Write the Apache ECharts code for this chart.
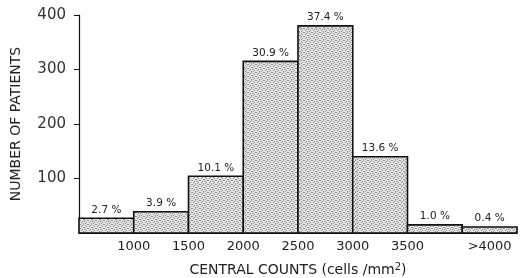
<!DOCTYPE html>
<html lang="en">
<head>
    <meta charset="UTF-8">
    <title>Central counts</title>
    <script src="https://cdn.jsdelivr.net/npm/echarts@6/dist/echarts.min.js"></script>
    <style>
        html, body { margin: 0; padding: 0; background: #fff; }
        #main { width: 524px; height: 278px; }
    </style>
</head>
<body>
<div id="main"></div>
<script>
    // bins of central counts (cells/mm2), the last one is open (>4000)
    var binStart = [500, 1000, 1500, 2000, 2500, 3000, 3500, 4000];
    var binEnd = [1000, 1500, 2000, 2500, 3000, 3500, 4000, 4500];
    var patients = [27, 39, 104, 315, 380, 140, 15, 11];
    var percents = ['2.7 %', '3.9 %', '10.1 %', '30.9 %', '37.4 %', '13.6 %', '1.0 %', '0.4 %'];
    var xTickLabels = {1000: '1000', 1500: '1500', 2000: '2000', 2500: '2500', 3000: '3000', 3500: '3500', 4250: '>4000'};
    var yTicks = [100, 200, 300, 400];

    var FONT = 'DejaVu Sans';

    // stippled grey fill (fixed dot mask, looks like print screen)
    var mask = [
        '10010001',
        '00100100',
        '01000010',
        '00011000',
        '10000101',
        '00101000',
        '01000010',
        '00010100'
    ];
    var tile = document.createElement('canvas');
    tile.width = 8; tile.height = 8;
    var tctx = tile.getContext('2d');
    tctx.fillStyle = '#e6e6e6';
    tctx.fillRect(0, 0, 8, 8);
    tctx.fillStyle = '#8a8a8a';
    mask.forEach(function (row, r) {
        for (var c = 0; c < row.length; c++) {
            if (row[c] === '1') tctx.fillRect(c, r, 1, 1);
        }
    });

    var data = binStart.map(function (s, i) {
        return [s, binEnd[i], patients[i]];
    });

    var myChart = echarts.init(document.getElementById('main'));
    var option = {
        animation: false,
        grid: { left: 79, right: 7, top: 15, bottom: 45, containLabel: false, outerBoundsMode: 'none' },
        xAxis: {
            type: 'value',
            min: 500,
            max: 4500,
            interval: 250,
            axisLine: { show: true, lineStyle: { color: '#111', width: 1.2 } },
            axisTick: { show: false },
            splitLine: { show: false },
            axisLabel: {
                margin: 7,
                color: '#222',
                fontFamily: FONT,
                fontSize: 13,
                formatter: function (v) { return xTickLabels[v] || ''; }
            },
            name: '{a|CENTRAL COUNTS (cells /mm}{s|2}{a|)}',
            nameLocation: 'middle',
            nameGap: 29,
            nameTextStyle: {
                rich: {
                    a: { fontFamily: FONT, fontSize: 14, color: '#222' },
                    s: { fontFamily: FONT, fontSize: 10, color: '#222', verticalAlign: 'top', padding: [0, 0, 6, 0] }
                }
            }
        },
        yAxis: {
            type: 'value',
            min: 0,
            max: 400,
            interval: 100,
            axisLine: { show: true, lineStyle: { color: '#111', width: 1.2 } },
            axisTick: { show: true, inside: false, length: 5, customValues: yTicks, lineStyle: { color: '#111' } },
            splitLine: { show: false },
            axisLabel: {
                margin: 13,
                color: '#333',
                fontFamily: FONT,
                fontSize: 15,
                customValues: yTicks
            },
            name: 'NUMBER OF PATIENTS',
            nameLocation: 'middle',
            nameGap: 56,
            nameTextStyle: { fontFamily: FONT, fontSize: 14, color: '#222' }
        },
        series: [{
            type: 'custom',
            data: data,
            renderItem: function (params, api) {
                var p0 = api.coord([api.value(0), api.value(2)]);
                var p1 = api.coord([api.value(1), 0]);
                var x = p0[0], y = p0[1];
                var w = p1[0] - p0[0], h = p1[1] - p0[1];
                return {
                    type: 'group',
                    children: [{
                        type: 'rect',
                        shape: { x: x, y: y, width: w, height: h },
                        style: {
                            fill: { image: tile, repeat: 'repeat' },
                            stroke: '#111',
                            lineWidth: 1.6
                        }
                    }, {
                        type: 'text',
                        style: {
                            text: percents[params.dataIndex],
                            x: x + w / 2,
                            y: y - 3,
                            align: 'center',
                            verticalAlign: 'bottom',
                            fontFamily: FONT,
                            fontSize: 10.5,
                            fill: '#222'
                        }
                    }]
                };
            }
        }]
    };
    myChart.setOption(option);
</script>
</body>
</html>
